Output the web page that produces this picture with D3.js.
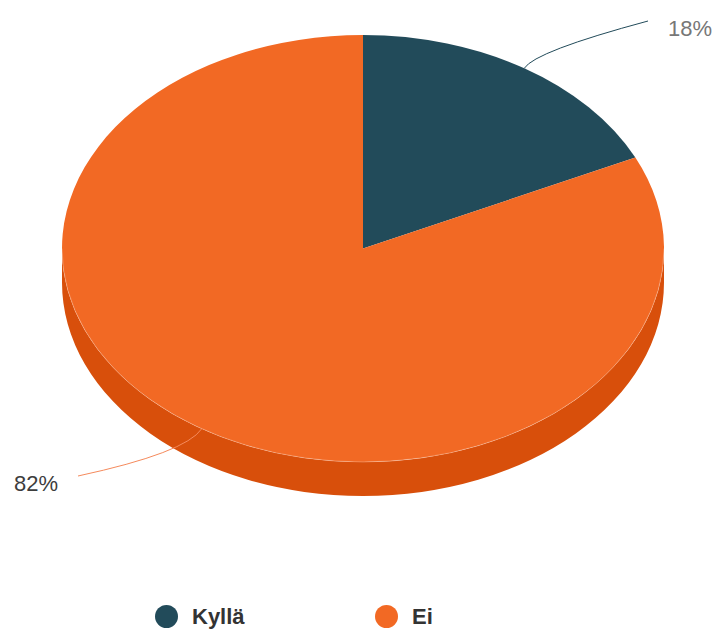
<!DOCTYPE html>
<html>
<head>
<meta charset="utf-8">
<script src="https://cdn.jsdelivr.net/npm/d3@7/dist/d3.min.js"></script>
<style>
  html, body { margin: 0; padding: 0; background: #fff; }
  svg { display: block; }
</style>
</head>
<body>
<svg id="chart" width="715" height="633"></svg>
<script>
// Answers to the question (percent of respondents)
const categories = ["Kyllä", "Ei"];
const values = [18, 82];

const topColors = ["#224b5a", "#f26924"];
const sideColors = ["#1a3a46", "#d84f0b"];
const labelColors = ["#777777", "#3d3d3d"];

const W = 715, H = 633;
const cx = 363, cy = 248.5;   // centre of the top face
const rx = 301, ry = 213.5;   // tilted disc radii
const depth = 34;             // thickness of the disc

const svg = d3.select("#chart");

const pie = d3.pie().sort(null).value(d => d.value).startAngle(0).endAngle(2 * Math.PI);
const data = categories.map((c, i) => ({ name: c, value: values[i], i }));
const arcs = pie(data);

// angle measured clockwise from 12 o'clock, projected onto the ellipse
const pt = (a, dy = 0) => [cx + rx * Math.sin(a), cy - ry * Math.cos(a) + dy];

function topPath(d) {
  const p0 = pt(d.startAngle), p1 = pt(d.endAngle);
  const large = d.endAngle - d.startAngle > Math.PI ? 1 : 0;
  return `M${cx},${cy}L${p0}A${rx},${ry} 0 ${large} 1 ${p1}Z`;
}

// the front wall is visible between 90° and 270°
function sidePath(d) {
  const a0 = Math.max(d.startAngle, Math.PI / 2);
  const a1 = Math.min(d.endAngle, 3 * Math.PI / 2);
  if (a1 <= a0) return null;
  const large = a1 - a0 > Math.PI ? 1 : 0;
  const t0 = pt(a0), t1 = pt(a1), b0 = pt(a0, depth), b1 = pt(a1, depth);
  return `M${t0}A${rx},${ry} 0 ${large} 1 ${t1}L${b1}A${rx},${ry} 0 ${large} 0 ${b0}Z`;
}

const g = svg.append("g");

g.selectAll("path.side")
  .data(arcs.filter(d => sidePath(d)))
  .join("path")
  .attr("class", "side")
  .attr("d", sidePath)
  .attr("fill", d => sideColors[d.data.i]);

g.selectAll("path.top")
  .data(arcs)
  .join("path")
  .attr("class", "top")
  .attr("d", topPath)
  .attr("fill", d => topColors[d.data.i]);

// faint highlight where the top face meets the front wall
{
  const a0 = Math.PI / 2, a1 = 3 * Math.PI / 2;
  g.append("path")
    .attr("d", `M${pt(a0)}A${rx},${ry} 0 0 1 ${pt(a1)}`)
    .attr("fill", "none")
    .attr("stroke", "#ffffff")
    .attr("stroke-opacity", 0.25)
    .attr("stroke-width", 1);
}

// data labels with curved connectors
const labelG = svg.append("g");
arcs.forEach(d => {
  const mid = (d.startAngle + d.endAngle) / 2;
  const side = Math.sin(mid) >= 0 ? 1 : -1;
  const p0 = pt(mid);
  const dir = [Math.sin(mid), -Math.cos(mid)];
  const ctrl = side > 0
    ? [p0[0] + dir[0] * 20, p0[1] + dir[1] * 20]
    : [p0[0] - 16, p0[1] + 24];
  const end = [cx + side * 285, cy - side * 227.5];
  labelG.append("path")
    .attr("d", `M${p0}Q${ctrl} ${end}`)
    .attr("fill", "none")
    .attr("stroke", side > 0 ? topColors[d.data.i] : "#f58a5c")
    .attr("stroke-width", 1);
  labelG.append("text")
    .attr("x", end[0] + side * 20)
    .attr("y", end[1] + 7)
    .attr("dy", "0.35em")
    .attr("text-anchor", side > 0 ? "start" : "end")
    .attr("font-family", "Liberation Sans, Arial, sans-serif")
    .attr("font-size", 22)
    .attr("fill", labelColors[d.data.i])
    .text(d3.format(".0f")(d.data.value) + "%");
});

// legend
const legendX = d3.scalePoint().domain(categories).range([166.5, 386.5]);
const legend = svg.append("g").attr("transform", "translate(0,616.5)");
const item = legend.selectAll("g").data(categories).join("g")
  .attr("transform", d => `translate(${legendX(d)},0)`);
item.append("circle").attr("r", 11.5).attr("fill", (d, i) => topColors[i]);
item.append("text")
  .attr("x", 25.5)
  .attr("dy", "0.36em")
  .attr("font-family", "Liberation Sans, Arial, sans-serif")
  .attr("font-weight", "bold")
  .attr("font-size", 22)
  .attr("fill", "#333333")
  .text(d => d);
</script>
</body>
</html>
